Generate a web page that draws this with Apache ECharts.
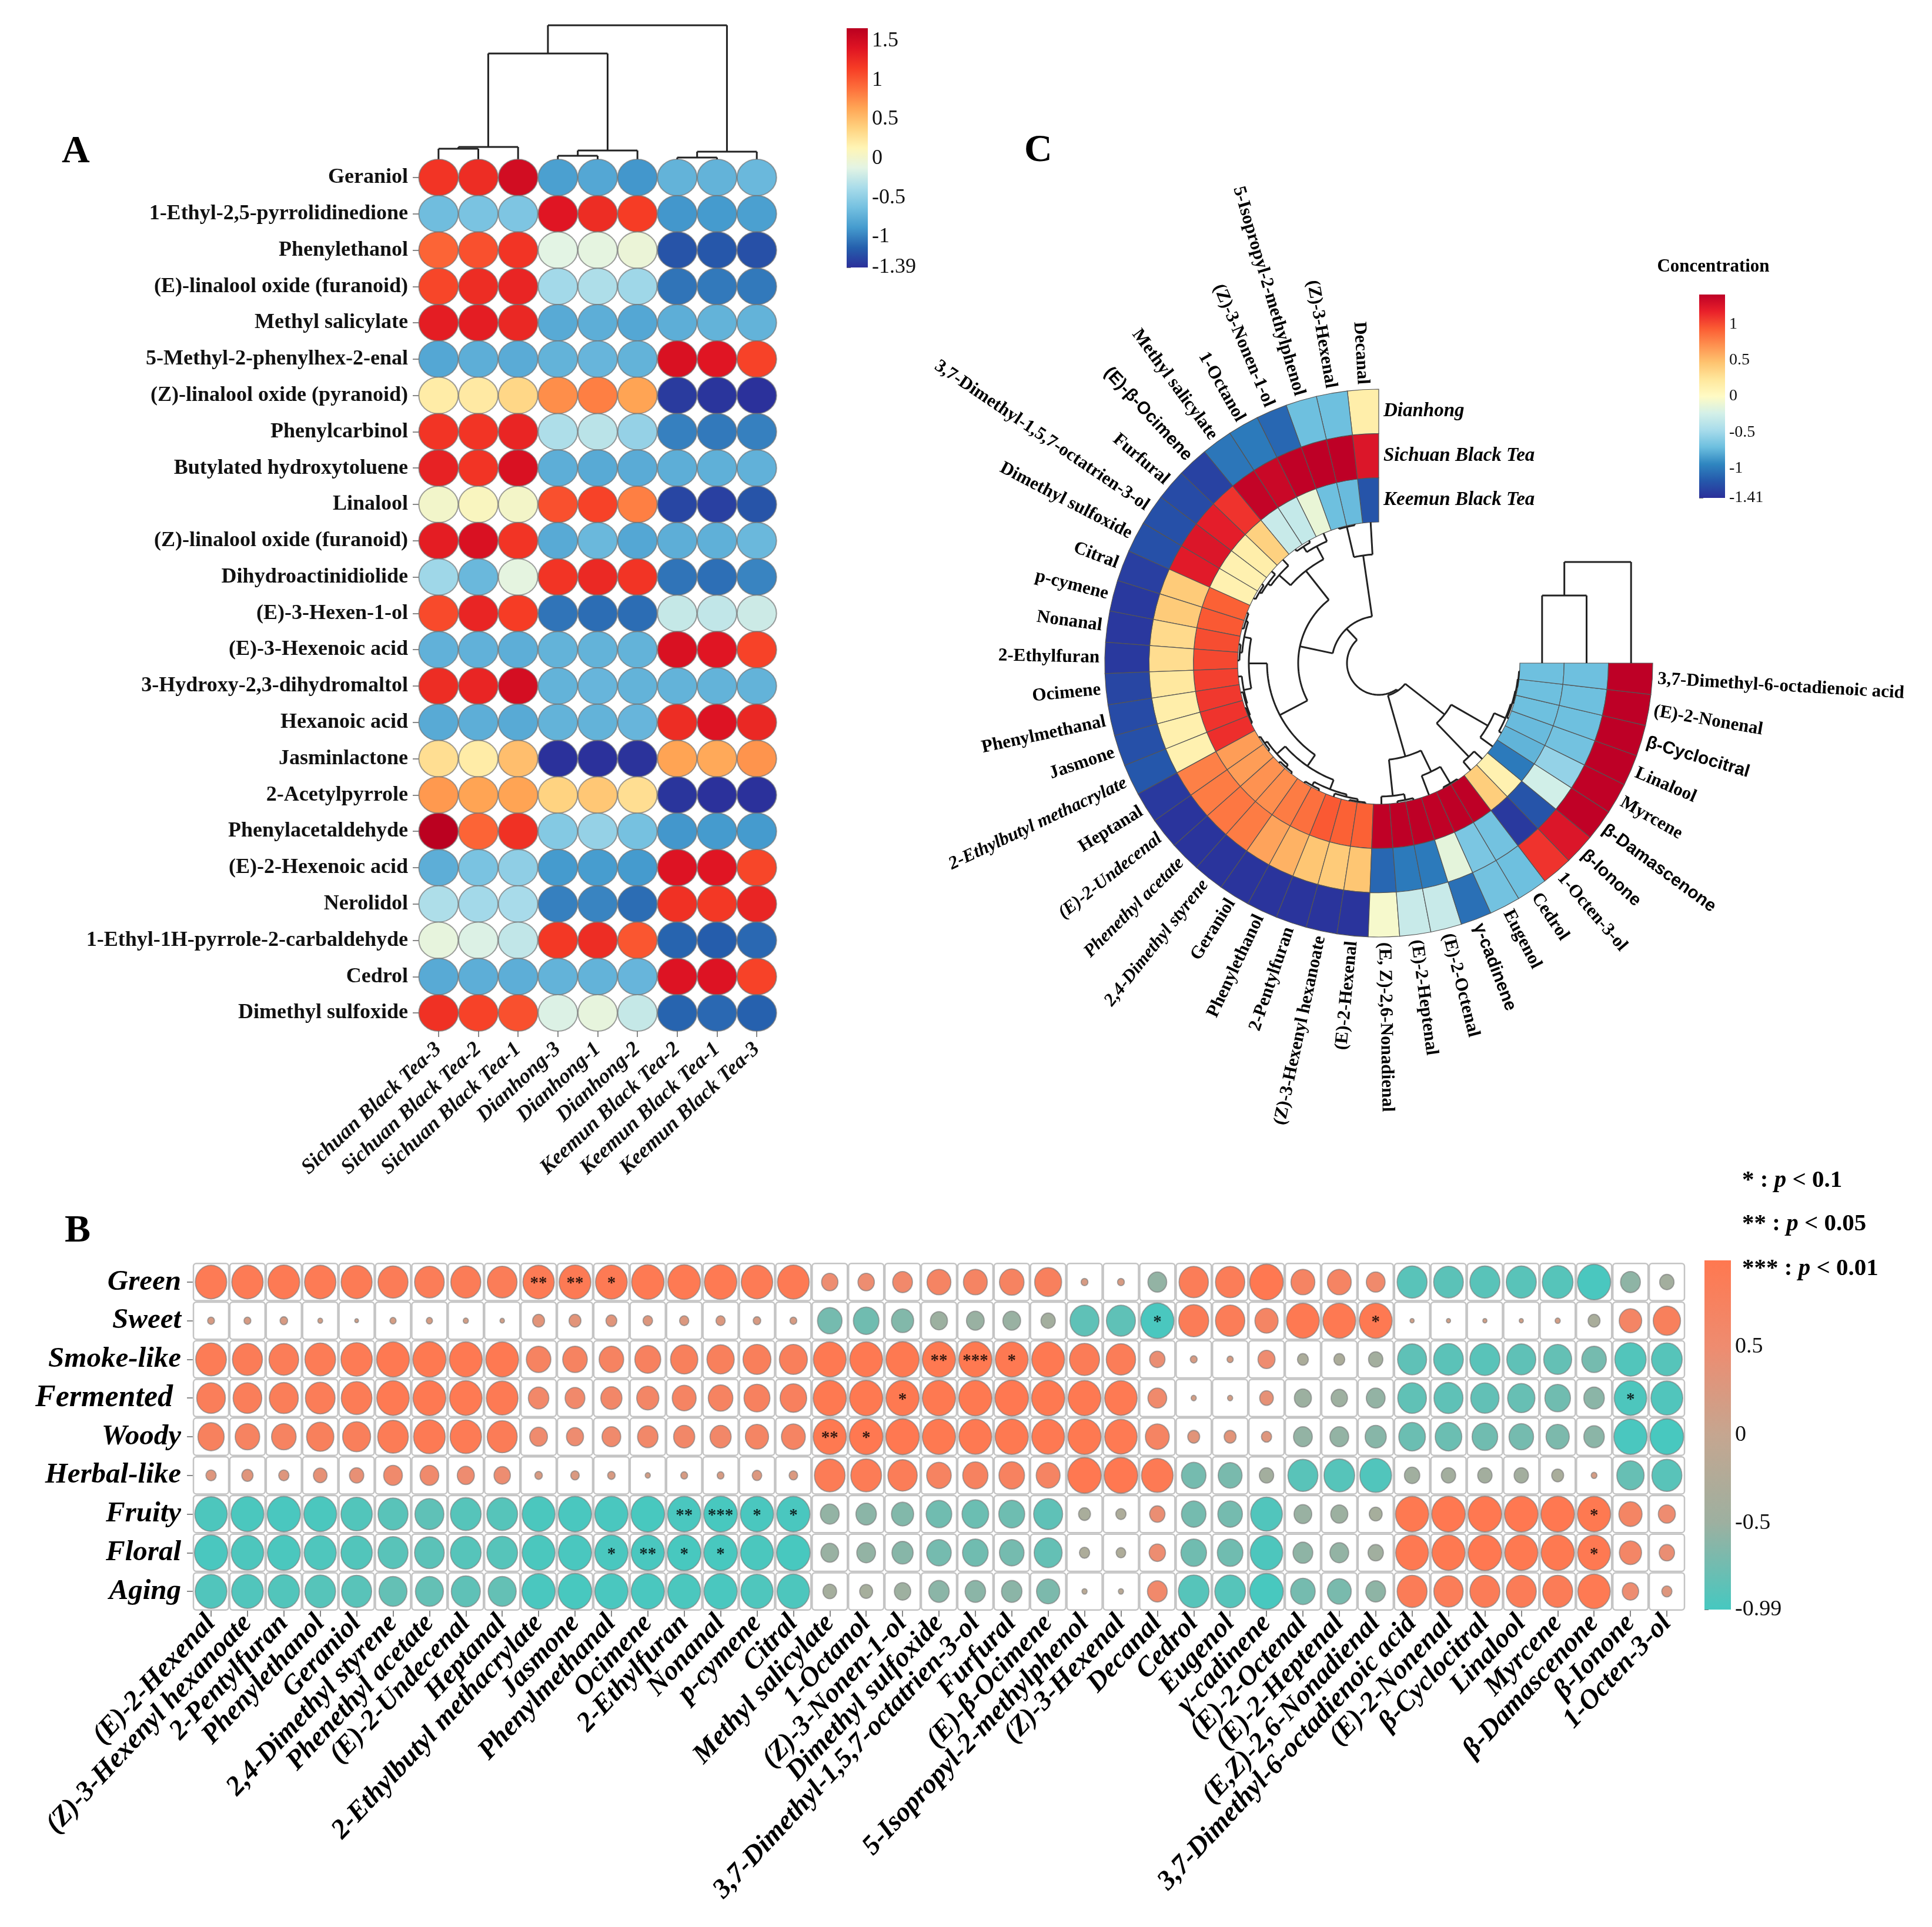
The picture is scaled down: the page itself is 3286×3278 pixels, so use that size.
<!DOCTYPE html>
<html><head><meta charset="utf-8">
<style>html,body{margin:0;padding:0;background:#fff}#c{width:3286px;height:3278px}</style>
<script src="https://cdn.jsdelivr.net/npm/echarts@6/dist/echarts.min.js"></script>
</head><body><div id="c"></div>
<script>
// ---------- Panel A data ----------
const aSamples = ['Sichuan Black Tea-3','Sichuan Black Tea-2','Sichuan Black Tea-1','Dianhong-3','Dianhong-1','Dianhong-2','Keemun Black Tea-2','Keemun Black Tea-1','Keemun Black Tea-3'];
const aCompounds = ['Geraniol','1-Ethyl-2,5-pyrrolidinedione','Phenylethanol','(E)-linalool oxide (furanoid)','Methyl salicylate','5-Methyl-2-phenylhex-2-enal','(Z)-linalool oxide (pyranoid)','Phenylcarbinol','Butylated hydroxytoluene','Linalool','(Z)-linalool oxide (furanoid)','Dihydroactinidiolide','(E)-3-Hexen-1-ol','(E)-3-Hexenoic acid','3-Hydroxy-2,3-dihydromaltol','Hexanoic acid','Jasminlactone','2-Acetylpyrrole','Phenylacetaldehyde','(E)-2-Hexenoic acid','Nerolidol','1-Ethyl-1H-pyrrole-2-carbaldehyde','Cedrol','Dimethyl sulfoxide'];
const aValues = [
[1.2,1.25,1.5,-.85,-.8,-.9,-.72,-.72,-.68],
[-.65,-.6,-.58,1.4,1.25,1.15,-.9,-.88,-.85],
[.95,1.05,1.2,-.12,-.1,-.05,-1.2,-1.18,-1.22],
[1.1,1.25,1.3,-.4,-.35,-.42,-1.05,-1.03,-1.03],
[1.35,1.35,1.28,-.78,-.75,-.8,-.75,-.72,-.72],
[-.8,-.75,-.77,-.72,-.7,-.72,1.45,1.4,1.12],
[.2,.22,.35,.75,.82,.65,-1.33,-1.36,-1.38],
[1.2,1.2,1.3,-.35,-.3,-.47,-1.0,-1.03,-1.0],
[1.32,1.2,1.45,-.75,-.78,-.77,-.75,-.74,-.73],
[.02,.08,.03,1.05,1.12,.82,-1.27,-1.3,-1.2],
[1.35,1.45,1.2,-.78,-.68,-.8,-.75,-.74,-.68],
[-.42,-.68,-.1,1.2,1.27,1.2,-1.05,-1.07,-.98],
[1.08,1.3,1.15,-1.05,-1.08,-1.08,-.25,-.27,-.22],
[-.73,-.73,-.75,-.72,-.72,-.72,1.45,1.4,1.12],
[1.25,1.3,1.48,-.72,-.7,-.72,-.72,-.72,-.72],
[-.78,-.75,-.78,-.72,-.72,-.7,1.25,1.42,1.28],
[.3,.2,.5,-1.38,-1.38,-1.37,.65,.62,.72],
[.7,.65,.65,.38,.45,.3,-1.36,-1.38,-1.38],
[1.65,.95,1.22,-.55,-.47,-.62,-.9,-.88,-.88],
[-.75,-.6,-.5,-.88,-.87,-.88,1.42,1.4,1.1],
[-.35,-.4,-.38,-1.0,-.98,-1.08,1.22,1.18,1.3],
[-.08,-.15,-.27,1.18,1.25,1.02,-1.12,-1.15,-1.1],
[-.78,-.75,-.75,-.72,-.72,-.7,1.42,1.42,1.12],
[1.22,1.12,1.05,-.15,-.08,-.25,-1.12,-1.1,-1.13]];
const aTicks = [-1.39,-1,-.5,0,.5,1,1.5];
const aTree = [228,[180,[21,[18,0,1],2],[15,[6,3,4],5]],[13,[3,6,7],8]];

// ---------- Panel B data ----------
const bSensory = ['Green','Sweet','Smoke-like','Fermented','Woody','Herbal-like','Fruity','Floral','Aging'];
const bCompounds = ['(E)-2-Hexenal','(Z)-3-Hexenyl hexanoate','2-Pentylfuran','Phenylethanol','Geraniol','2,4-Dimethyl styrene','Phenethyl acetate','(E)-2-Undecenal','Heptanal','2-Ethylbutyl methacrylate','Jasmone','Phenylmethanal','Ocimene','2-Ethylfuran','Nonanal','p-cymene','Citral','Methyl salicylate','1-Octanol','(Z)-3-Nonen-1-ol','Dimethyl sulfoxide','3,7-Dimethyl-1,5,7-octatrien-3-ol','Furfural','(E)-β-Ocimene','5-Isopropyl-2-methylphenol','(Z)-3-Hexenal','Decanal','Cedrol','Eugenol','γ-cadinene','(E)-2-Octenal','(E)-2-Heptenal','(E,Z)-2,6-Nonadienal','3,7-Dimethyl-6-octadienoic acid','(E)-2-Nonenal','β-Cyclocitral','Linalool','Myrcene','β-Damascenone','β-Ionone','1-Octen-3-ol'];
const bGreen = [.92,.92,.93,.92,.91,.88,.87,.88,.87,.92,.93,.93,.95,.95,.95,.92,.93,.48,.48,.58,.7,.7,.72,.79,.2,.2,-.55,.86,.86,.98,.7,.7,.55,-.88,-.87,-.88,-.88,-.9,-.97,-.58,-.42];
const bSweet = [.2,.2,.22,.14,.11,.18,.18,.15,.13,.35,.35,.32,.28,.27,.27,.22,.2,-.72,-.75,-.65,-.5,-.52,-.52,-.42,-.85,-.85,-.97,.88,.86,.68,.96,.96,.96,.12,.12,.12,.12,.15,-.35,.66,.8];
const bSmoke = [.9,.88,.87,.9,.92,.96,.97,.96,.96,.72,.72,.72,.76,.8,.8,.82,.82,.96,.96,.97,.97,.97,.96,.96,.88,.86,.45,.2,.18,.5,-.32,-.32,-.42,-.85,-.87,-.88,-.85,-.82,-.72,-.92,-.9];
const bFerment = [.84,.84,.85,.87,.9,.95,.96,.95,.93,.6,.58,.62,.65,.7,.72,.76,.78,.97,.97,.97,.97,.97,.98,.97,.96,.95,.55,.15,.15,.4,-.5,-.48,-.55,-.84,-.85,-.83,-.8,-.75,-.6,-.95,-.93];
const bWoody = [.77,.72,.72,.8,.82,.9,.93,.92,.88,.52,.5,.55,.6,.62,.62,.68,.7,.97,.98,.98,.97,.96,.97,.96,.97,.95,.7,.35,.35,.3,-.55,-.55,-.62,-.78,-.78,-.75,-.72,-.68,-.6,-.97,-.98];
const bHerbal = [.3,.33,.3,.4,.42,.55,.55,.5,.48,.22,.25,.22,.15,.2,.2,.28,.25,.9,.9,.86,.72,.74,.75,.7,.98,.98,.93,-.72,-.7,-.42,-.88,-.9,-.93,-.45,-.42,-.42,-.42,-.35,.17,-.8,-.88];
const bFruity = [-.95,-.96,-.97,-.96,-.92,-.88,-.85,-.9,-.9,-.96,-.97,-.97,-.98,-.97,-.98,-.97,-.97,-.55,-.6,-.65,-.75,-.78,-.76,-.85,-.35,-.3,.45,-.72,-.72,-.93,-.52,-.5,-.38,.97,.98,.98,.98,.98,.97,.68,.5];
const bFloral = [-.97,-.95,-.96,-.94,-.92,-.88,-.87,-.9,-.9,-.96,-.97,-.97,-.97,-.98,-.98,-.96,-.98,-.52,-.55,-.62,-.72,-.75,-.72,-.82,-.3,-.28,.48,-.75,-.75,-.95,-.58,-.55,-.45,.96,.97,.98,.97,.97,.96,.65,.45];
const bAging = [-.93,-.93,-.92,-.9,-.88,-.82,-.82,-.85,-.82,-.97,-.98,-.97,-.97,-.96,-.97,-.94,-.95,-.4,-.38,-.48,-.6,-.6,-.6,-.68,-.15,-.15,.58,-.9,-.9,-.98,-.72,-.7,-.58,.88,.86,.88,.88,.88,.95,.48,.3];
const bRows = [bGreen,bSweet,bSmoke,bFerment,bWoody,bHerbal,bFruity,bFloral,bAging];
// [row, column (1-based), marker]
const bStars = [[0,10,'**'],[0,11,'**'],[0,12,'*'],[1,27,'*'],[1,33,'*'],[2,21,'**'],[2,22,'***'],[2,23,'*'],[3,20,'*'],[3,40,'*'],[4,18,'**'],[4,19,'*'],[6,14,'**'],[6,15,'***'],[6,16,'*'],[6,17,'*'],[6,39,'*'],[7,12,'*'],[7,13,'**'],[7,14,'*'],[7,15,'*'],[7,39,'*']];
const bTicks = [-.99,-.5,0,.5];

// ---------- Panel C data ----------
const cRings = ['Keemun Black Tea','Sichuan Black Tea','Dianhong'];
const cCompounds = ['Decanal','(Z)-3-Hexenal','5-Isopropyl-2-methylphenol','(Z)-3-Nonen-1-ol','1-Octanol','Methyl salicylate','(E)-β-Ocimene','Furfural','3,7-Dimethyl-1,5,7-octatrien-3-ol','Dimethyl sulfoxide','Citral','p-cymene','Nonanal','2-Ethylfuran','Ocimene','Phenylmethanal','Jasmone','2-Ethylbutyl methacrylate','Heptanal','(E)-2-Undecenal','Phenethyl acetate','2,4-Dimethyl styrene','Geraniol','Phenylethanol','2-Pentylfuran','(Z)-3-Hexenyl hexanoate','(E)-2-Hexenal','(E, Z)-2,6-Nonadienal','(E)-2-Heptenal','(E)-2-Octenal','γ-cadinene','Eugenol','Cedrol','1-Octen-3-ol','β-Ionone','β-Damascenone','Myrcene','Linalool','β-Cyclocitral','(E)-2-Nonenal','3,7-Dimethyl-6-octadienoic acid'];
const cDianhong = [.15,-.7,-.7,-1.1,-1.0,-1.02,-1.3,-1.25,-1.22,-1.22,-1.32,-1.35,-1.36,-1.35,-1.28,-1.25,-1.22,-1.18,-1.35,-1.38,-1.38,-1.38,-1.38,-1.38,-1.38,-1.38,-1.38,-.05,-.3,-.3,-1.05,-.68,-.7,1.1,1.25,1.4,1.4,1.42,1.42,1.41,1.42];
const cSichuan = [1.25,1.42,1.45,1.4,1.35,1.38,1.1,1.2,1.25,1.22,.42,.42,.32,.3,.22,.15,.13,.12,.78,.8,.82,.8,.62,.55,.45,.42,.45,-1.1,-1.0,-1.0,-.15,-.65,-.68,-1.35,-1.2,-.25,-.55,-.68,-.7,-.7,-.7];
const cKeemun = [-1.2,-.72,-.7,-.12,-.32,-.3,.38,.15,.12,.12,.92,.95,1.0,1.02,1.05,1.08,1.1,1.12,.65,.65,.7,.72,.8,.85,.95,.92,.92,1.4,1.42,1.45,1.4,1.48,1.42,.4,.12,-1.0,-.75,-.72,-.7,-.7,-.7];
const cTicks = [-1.41,-1,-.5,0,.5,1];
const cTreeAngular = [54,
 [80,
  [137,
   [200,[225,3,[236,4,5]],[226,6,[232,7,[236,8,9]]]],
   [190,
    [221,[233,[237,10,11],[237,12,13]],[234,14,[236,15,[238,16,17]]]],
    [213,[232,[237,18,19],[237,20,21]],[230,[237,22,23],[234,24,[238,25,26]]]]]],
  [185,0,[238,1,2]]],
 [57,
  [165,[227,27,[237,28,29]],[205,30,[238,31,32]]],
  [142,[221,33,34],[214,35,[235,36,[237,37,[238,38,[239,39,40]]]]]]]];
const cTreeRings = [172,[115,0,1],2];

// ---------- Colour scales (low to high, evenly spaced) ----------
const aColors = ['#2b2f9a','#2560ad','#459bce','#74c0e0','#a9dcea','#e3f4e4','#fff5b5','#ffd27f','#ffa555','#fd6e3b','#f63c25','#df1423','#ba0020'];
const cColors = ['#2b2f9a','#2558ab','#2f86c0','#6dbfdf','#a8dceb','#d4f0e8','#fffbc4','#ffe79c','#fec36f','#fe9150','#fb5c33','#e9202a','#be0026'];
const bColors = ['#46c8c0','#9db0a0','#c5a690','#ee8c70','#ff7850'];

// ---------- Helpers ----------
const SERIF = '"Liberation Serif", serif';
const SANS = '"Liberation Sans", sans-serif';
function flatten(node, leafH, segs){
  if (typeof node === 'number') return {p: node + .5, h: leafH};
  const a = flatten(node[1], leafH, segs), b = flatten(node[2], leafH, segs), h = node[0];
  segs.push([a.p, a.h, a.p, h], [b.p, b.h, b.p, h], [a.p, h, b.p, h]);
  return {p: (a.p + b.p) / 2, h};
}
function segsOf(tree, leafH){ const s = []; flatten(tree, leafH, s); return s; }
function lineStyle(){ return {stroke: '#222', lineWidth: 3, fill: null}; }
function renderCartSeg(params, api){
  return {type:'polyline', shape:{points:[api.coord([api.value(0),api.value(1)]), api.coord([api.value(2),api.value(3)])]}, style:lineStyle()};
}
function renderPolarSeg(params, api){
  const a1 = api.value(0), r1 = api.value(1), a2 = api.value(2), r2 = api.value(3);
  const n = Math.ceil(Math.abs(a2 - a1) * 5) + 1, pts = [];
  for (let i = 0; i <= n; i++){ const c = api.coord([r1 + (r2 - r1) * i / n, a1 + (a2 - a1) * i / n]); pts.push([c[0], c[1]]); }
  return {type:'polyline', shape:{points:pts}, style:lineStyle()};
}
function renderSector(params, api){
  const ring = api.value(0), i = api.value(1), cs = params.coordSys;
  const p = api.coord([ring, i]), q = api.coord([ring + 1, i + 1]);
  const ang = c => Math.atan2(c[1] - cs.cy, c[0] - cs.cx);
  return {type:'sector', shape:{cx:cs.cx, cy:cs.cy, r0:p[2], r:q[2], startAngle:ang(p), endAngle:ang(q), clockwise:false},
    style:{fill:api.visual('color'), stroke:'#555', lineWidth:1.2}};
}
function renderCLabel(params, api){
  const cs = params.coordSys, p = api.coord([api.value(0), api.value(1)]);
  let al = Math.atan2(-(p[1] - cs.cy), p[0] - cs.cx); if (al < 0) al += Math.PI * 2;
  const left = al > Math.PI / 2 && al < Math.PI * 1.5, R = p[2] + 9, name = cCompounds[params.dataIndex];
  const italic = /Ethylbutyl|Undecenal|Phenethyl|Dimethyl styrene/.test(name);
  const font = /[βγ]/.test(name) ? 'bold 30px ' + SANS : (italic ? 'italic ' : '') + 'bold 31px ' + SERIF;
  return {type:'text', x: cs.cx + R * Math.cos(al), y: cs.cy - R * Math.sin(al), rotation: left ? al - Math.PI : al,
    style:{text:name, font, fill:'#000', align: left ? 'right' : 'left', verticalAlign:'middle'}};
}
function renderRingName(params, api){
  const p = api.coord([api.value(0), api.value(1)]);
  return {type:'text', x:p[0] + 8, y:p[1], style:{text:cRings[params.dataIndex], font:'italic bold 33px ' + SERIF, fill:'#000', align:'left', verticalAlign:'middle'}};
}
function renderCell(params, api){
  const c = api.coord([api.value(0), api.value(1)]), s = api.size([1, 1]);
  const w = s[0] - 2, h = s[1] - 2.5;
  return {type:'rect', shape:{x:c[0] - w / 2, y:c[1] - h / 2, width:w, height:h, r:5},
    style:{fill:'#fff', stroke:'#c4c4c4', lineWidth:2.5}};
}
function colorBar(gridId, colors, min, max){
  const stops = colors.map((c, i) => ({offset: i / (colors.length - 1), color: c}));
  return {type:'custom', xAxisIndex:gridId, yAxisIndex:gridId, silent:true, data:[[0, min, 1, max]],
    renderItem(params, api){
      const a = api.coord([0, max]), b = api.coord([1, min]);
      return {type:'rect', shape:{x:a[0], y:a[1], width:b[0] - a[0], height:b[1] - a[1]},
        style:{fill:new echarts.graphic.LinearGradient(0, 1, 0, 0, stops)}};
    }};
}

// ---------- Build series data ----------
const aData = []; aValues.forEach((row, r) => row.forEach((v, c) => aData.push([c, r, v])));
const bData = []; const bCells = [];
bRows.forEach((row, r) => row.forEach((v, c) => { bData.push([c, r, v]); bCells.push([c, r]); }));
const bStarData = bStars.map(s => [s[1] - 1, s[0], s[2]]);
const cData = [];
[cKeemun, cSichuan, cDianhong].forEach((arr, ring) => arr.forEach((v, i) => cData.push([ring, i, v])));

// ---------- Axes helpers ----------
const hiddenVal = (extra) => Object.assign({type:'value', show:false, splitLine:{show:false}}, extra);
const ANG = 360 / (270 / 41);
function barY(gridIndex, min, max, ticks, fs){
  return {type:'value', gridIndex, min, max, position:'right', splitLine:{show:false}, axisLine:{show:false},
    axisTick:{show:true, length:7, customValues:ticks, lineStyle:{color:'#777', width:2}},
    axisLabel:{show:true, customValues:ticks, margin:7, fontFamily:SERIF, fontSize:fs, color:'#111', formatter:v => String(v)}};
}
const tickLine = {show:true, length:10, alignWithLabel:true, lineStyle:{color:'#888', width:2}};

const option = {
  animation:false, backgroundColor:'#fff',
  grid:[
    {left:712, top:271, width:609, height:1483},           // 0 A heat
    {left:712, top:43, width:609, height:228},             // 1 A tree
    {left:1440, top:48, width:36, height:407},             // 2 A bar
    {left:328, top:2148, width:2538, height:592},          // 3 B
    {left:2899, top:2144, width:45, height:594},           // 4 B bar
    {left:2890, top:501, width:44, height:346},            // 5 C bar
    {left:2585, top:956, width:227, height:172}            // 6 C ring tree
  ],
  xAxis:[
    {type:'category', gridIndex:0, data:aSamples, axisLine:{show:false}, axisTick:tickLine,
     axisLabel:{rotate:43, interval:0, margin:26, fontFamily:SERIF, fontWeight:'bold', fontStyle:'italic', fontSize:36, color:'#111'}},
    hiddenVal({gridIndex:1, min:0, max:9}),
    hiddenVal({gridIndex:2, min:0, max:1}),
    {type:'category', gridIndex:3, data:bCompounds, axisLine:{show:false}, axisTick:tickLine,
     axisLabel:{rotate:47, interval:0, margin:14, fontFamily:SERIF, fontWeight:'bold', fontStyle:'italic', fontSize:47, color:'#000'}},
    hiddenVal({gridIndex:4, min:0, max:1}),
    hiddenVal({gridIndex:5, min:0, max:1}),
    hiddenVal({gridIndex:6, min:0, max:3})
  ],
  yAxis:[
    {type:'category', gridIndex:0, inverse:true, data:aCompounds, axisLine:{show:false}, axisTick:tickLine,
     axisLabel:{interval:0, margin:18, fontFamily:SERIF, fontWeight:'bold', fontSize:36, color:'#111'}},
    hiddenVal({gridIndex:1, min:0, max:228}),
    barY(2, -1.39, 1.66, aTicks, 36),
    {type:'category', gridIndex:3, inverse:true, data:bSensory, axisLine:{show:false}, axisTick:tickLine,
     axisLabel:{interval:0, margin:20, fontFamily:SERIF, fontWeight:'bold', fontStyle:'italic', fontSize:49, color:'#000',
       formatter:v => v === 'Fermented' ? '{big|' + v + '}' : v,
       rich:{big:{fontFamily:SERIF, fontWeight:'bold', fontStyle:'italic', fontSize:52, color:'#000', padding:[0,14,0,0]}}}},
    barY(4, -.99, .99, bTicks, 38),
    barY(5, -1.41, 1.41, cTicks, 28),
    hiddenVal({gridIndex:6, min:0, max:172})
  ],
  polar:[{center:[2345,1128], radius:[240,466]}, {center:[2345,1128], radius:[0,240]}],
  angleAxis:[
    {polarIndex:0, type:'value', min:0, max:ANG, startAngle:90, clockwise:false, show:false},
    {polarIndex:1, type:'value', min:0, max:ANG, startAngle:90, clockwise:false, show:false}
  ],
  radiusAxis:[
    {polarIndex:0, type:'value', min:0, max:3, show:false},
    {polarIndex:1, type:'value', min:0, max:240, show:false}
  ],
  visualMap:[
    {show:false, seriesIndex:0, dimension:2, min:-1.39, max:1.66, inRange:{color:aColors}},
    {show:false, seriesIndex:4, dimension:2, min:-.99, max:.99, inRange:{color:bColors}},
    {show:false, seriesIndex:7, dimension:2, min:-1.41, max:1.41, inRange:{color:cColors}}
  ],
  series:[
    {type:'scatter', xAxisIndex:0, yAxisIndex:0, data:aData, symbol:'circle', symbolSize:[67,62], silent:true,
     itemStyle:{opacity:1, borderColor:'rgba(110,110,110,.65)', borderWidth:2}},                                 // 0
    {type:'custom', xAxisIndex:1, yAxisIndex:1, data:segsOf(aTree, 0), renderItem:renderCartSeg, silent:true},    // 1
    colorBar(2, aColors, -1.39, 1.66),                                                                           // 2
    {type:'custom', xAxisIndex:3, yAxisIndex:3, data:bCells, renderItem:renderCell, silent:true, z:1},            // 3
    {type:'scatter', xAxisIndex:3, yAxisIndex:3, data:bData, symbol:'circle', silent:true, z:2,
     symbolSize:d => [58 * Math.abs(d[2]), 62 * Math.abs(d[2])],
     itemStyle:{opacity:1, borderColor:'rgba(120,120,120,.6)', borderWidth:2}},                                   // 4
    {type:'scatter', xAxisIndex:3, yAxisIndex:3, data:bStarData, symbol:'circle', symbolSize:1, silent:true, z:3,
     itemStyle:{color:'rgba(0,0,0,0)'},
     label:{show:true, position:'inside', formatter:p => p.data[2], fontFamily:SERIF, fontWeight:'bold', fontSize:29, color:'#000', offset:[0,3]}}, // 5
    colorBar(4, bColors, -.99, .99),                                                                             // 6
    {type:'custom', coordinateSystem:'polar', polarIndex:0, data:cData, renderItem:renderSector, silent:true},    // 7
    {type:'custom', coordinateSystem:'polar', polarIndex:0, data:cCompounds.map((n, i) => [3, i + .5]), renderItem:renderCLabel, silent:true}, // 8
    {type:'custom', coordinateSystem:'polar', polarIndex:0, data:cRings.map((n, i) => [i + .5, 0]), renderItem:renderRingName, silent:true},   // 9
    {type:'custom', coordinateSystem:'polar', polarIndex:1, data:segsOf(cTreeAngular, 240), renderItem:renderPolarSeg, silent:true}, // 10
    {type:'custom', xAxisIndex:6, yAxisIndex:6, data:segsOf(cTreeRings, 0), renderItem:renderCartSeg, silent:true}, // 11
    colorBar(5, cColors, -1.41, 1.41)                                                                            // 12
  ],
  graphic:[
    {type:'text', x:105, y:226, style:{text:'A', font:'bold 66px ' + SERIF, fill:'#000'}},
    {type:'text', x:110, y:2062, style:{text:'B', font:'bold 66px ' + SERIF, fill:'#000'}},
    {type:'text', x:1742, y:224, style:{text:'C', font:'bold 66px ' + SERIF, fill:'#000'}},
    {type:'text', x:2914, y:438, style:{text:'Concentration', font:'bold 31px ' + SERIF, fill:'#000', align:'center'}},
    {type:'text', x:2963, y:1988, style:{text:'{b|* : }{i|p}{b| < 0.1}', rich:{b:{font:'bold 41px ' + SERIF, fill:'#000'}, i:{font:'italic bold 41px ' + SERIF, fill:'#000'}}}},
    {type:'text', x:2963, y:2062, style:{text:'{b|** : }{i|p}{b| < 0.05}', rich:{b:{font:'bold 41px ' + SERIF, fill:'#000'}, i:{font:'italic bold 41px ' + SERIF, fill:'#000'}}}},
    {type:'text', x:2963, y:2138, style:{text:'{b|*** : }{i|p}{b| < 0.01}', rich:{b:{font:'bold 41px ' + SERIF, fill:'#000'}, i:{font:'italic bold 41px ' + SERIF, fill:'#000'}}}}
  ]
};
const chart = echarts.init(document.getElementById('c'), null, {renderer:'canvas', width:3286, height:3278});
chart.setOption(option);
</script>
</body></html>
